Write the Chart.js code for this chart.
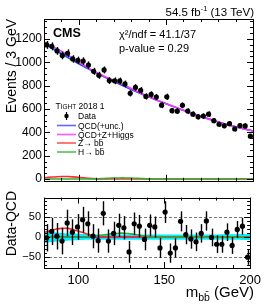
<!DOCTYPE html>
<html><head><meta charset="utf-8">
<script src="https://cdn.jsdelivr.net/npm/chart.js@4.4.1/dist/chart.umd.min.js"></script>
<style>
html,body{margin:0;padding:0;background:#fff;overflow:hidden;}
#c1{position:absolute;left:0;top:0;}
#c2{position:absolute;left:0;top:188px;}
</style></head><body>
<canvas id="c1" width="266" height="190"></canvas>
<canvas id="c2" width="266" height="120"></canvas>
<script>
// ---- data ----
const binCenters = [81.5,84.5,87.5,90.5,93.5,96.5,99.5,102.5,105.5,108.5,111.5,114.5,117.5,120.5,123.5,126.5,129.5,132.5,135.5,138.5,141.5,144.5,147.5,150.5,153.5,156.5,159.5,162.5,165.5,168.5,171.5,174.5,177.5,180.5,183.5,186.5,189.5,192.5,195.5,198.5];
const dataEvents = [1148,1136,1097,1058,1077,1028,1016,1010,976,922,888,934,843,841,840,814,734,784,759,707,724,702,632,704,585,581,631,582,555,533,539,555,500,469,456,474,429,458,455,367];
const dataErr = [34,34,33,33,33,32,32,32,31,30,30,30,29,29,29,29,27,28,28,27,27,26,25,27,24,24,25,24,24,23,23,24,22,22,21,22,21,21,21,19];
const residuals = [-2,14,2,-10,35,12,25,43,33,2,-9,59,-10,9,29,23,-37,33,27,-6,29,25,-27,62,-40,-27,39,6,-5,-12,9,40,-1,-18,-18,12,-21,19,27,-50];
const curveX = [80,81.5,84.5,87.5,90.5,93.5,96.5,99.5,102.5,105.5,108.5,111.5,114.5,117.5,120.5,123.5,126.5,129.5,132.5,135.5,138.5,141.5,144.5,147.5,150.5,153.5,156.5,159.5,162.5,165.5,168.5,171.5,174.5,177.5,180.5,183.5,186.5,189.5,192.5,195.5,198.5,200];
const qcdFit = [1165,1150,1122,1095,1068,1042,1016,991,967,943,920,897,875,853,832,811,791,771,751,732,713,695,677,659,642,625,608,592,576,560,545,530,515,501,487,474,462,450,439,428,417,412];
const qcdUnc = [15,14,12.5,11,10,9,8.5,8,7.5,7,7,6.5,6.5,6.5,6.5,6.5,6.5,6.5,6.5,6.5,6.5,6.5,6.5,6.5,6.5,6.5,6.5,6.5,6.5,6.5,6.5,6.5,6.5,6.5,6.5,7,7,7,7,7.5,7.5,8];
const zSignal = [11,13,17,20,21.5,21.5,19,15,11,7,3.5,1.5,0.5,0.2,0,0,0,0,0,0,0,0,0,0,0,0,0,0,0,0,0,0,0,0,0,0,0,0,0,0,0,0];
const hSignal = [0,0,0,0,0,0,0,0,0,0.5,1.5,3,5,7,8.5,9.5,9.5,8.5,6.5,4.5,2.5,1.2,0.5,0.2,0,0,0,0,0,0,0,0,0,0,0,0,0,0,0,0,0,0];
const yTicksTop = [0,200,400,600,800,1000,1200];
const yTicksBottom = [-50,0,50];
const xTicks = [100,150,200];

const FONT = '"Liberation Sans", Arial, Helvetica, sans-serif';
const C_BLUE = '#4646ff', C_MAG = '#ff33ff', C_CYAN = '#00f0ff', C_RED = '#ff2a2a', C_GREEN = '#2fb02f';

const pts = (xs, ys) => xs.map((x, i) => ({x: x, y: ys[i]}));

function errBarPlugin(errs) {
  return {
    id: 'errBars',
    beforeDatasetDraw(chart, args) {
      if (args.index !== 0) return;
      const ctx = chart.ctx, xs = chart.scales.x, ys = chart.scales.y;
      const d = chart.data.datasets[0].data;
      ctx.save();
      ctx.strokeStyle = '#000'; ctx.lineWidth = 1.4;
      d.forEach((p, i) => {
        const px = Math.round(xs.getPixelForValue(p.x)) + 0.5;
        ctx.beginPath();
        ctx.moveTo(px, ys.getPixelForValue(p.y - errs[i]));
        ctx.lineTo(px, ys.getPixelForValue(p.y + errs[i]));
        ctx.stroke();
      });
      ctx.restore();
    }
  };
}

function framePlugin(cfg) {
  return {
    id: 'frameTicks',
    beforeDatasetsDraw(chart) {
      if (!cfg.dashed) return;
      const ctx = chart.ctx, a = chart.chartArea, ys = chart.scales.y;
      ctx.save();
      ctx.strokeStyle = '#777'; ctx.lineWidth = 1; ctx.setLineDash([3, 2]);
      cfg.dashed.forEach(v => {
        const py = Math.round(ys.getPixelForValue(v)) + 0.5;
        ctx.beginPath(); ctx.moveTo(a.left, py); ctx.lineTo(a.right, py); ctx.stroke();
      });
      ctx.restore();
    },
    afterDraw(chart) {
      const ctx = chart.ctx, a = chart.chartArea, xs = chart.scales.x, ys = chart.scales.y;
      ctx.save();
      ctx.strokeStyle = '#000'; ctx.lineWidth = 1;
      ctx.strokeRect(Math.round(a.left) + 0.5, Math.round(a.top) + 0.5, Math.round(a.right - a.left), Math.round(a.bottom - a.top));
      ctx.beginPath();
      for (let v = xs.min; v <= xs.max + 1e-6; v += cfg.xMinor) {
        const px = Math.round(xs.getPixelForValue(v)) + 0.5;
        const L = (xTicks.indexOf(v) >= 0) ? cfg.xMajLen : cfg.xMinLen;
        ctx.moveTo(px, a.bottom); ctx.lineTo(px, a.bottom - L);
        ctx.moveTo(px, a.top); ctx.lineTo(px, a.top + L);
      }
      const y0 = Math.ceil(ys.min / cfg.yMinor) * cfg.yMinor;
      for (let v = y0; v <= ys.max + 1e-6; v += cfg.yMinor) {
        const py = Math.round(ys.getPixelForValue(v)) + 0.5;
        const L = (cfg.yMajor.indexOf(v) >= 0) ? cfg.yMajLen : cfg.yMinLen;
        ctx.moveTo(a.left, py); ctx.lineTo(a.left + L, py);
        ctx.moveTo(a.right, py); ctx.lineTo(a.right - L, py);
      }
      ctx.stroke();
      ctx.restore();
      if (cfg.text) cfg.text(ctx, chart);
    }
  };
}

function lineDs(data, color, width, extra) {
  return Object.assign({data: data, borderColor: color, borderWidth: width, pointRadius: 0, fill: false, tension: 0.3}, extra || {});
}

// ---------- top panel ----------
const sumFit = curveX.map((x, i) => ({x: x, y: qcdFit[i] + zSignal[i] + hSignal[i]}));
const bandUp = curveX.map((x, i) => ({x: x, y: qcdFit[i] + qcdUnc[i]}));
const bandLo = curveX.map((x, i) => ({x: x, y: qcdFit[i] - qcdUnc[i]}));

function topText(ctx, chart) {
  ctx.save();
  ctx.fillStyle = '#000';
  ctx.textBaseline = 'alphabetic';
  const p1 = '54.5 fb', p3 = ' (13 TeV)';
  ctx.font = '7.5px ' + FONT; const w2 = ctx.measureText('-1').width;
  ctx.font = '11.5px ' + FONT;
  const w1 = ctx.measureText(p1).width, w3 = ctx.measureText(p3).width;
  let x = 254 - (w1 + w2 + w3);
  ctx.fillText(p1, x, 16); x += w1;
  ctx.font = '7.5px ' + FONT; ctx.fillText('-1', x, 11); x += w2;
  ctx.font = '11.5px ' + FONT; ctx.fillText(p3, x, 16);
  ctx.font = 'bold 12.5px ' + FONT;
  ctx.fillText('CMS', 53, 37);
  ctx.font = '11px ' + FONT;
  ctx.fillText('\u03C7\u00B2/ndf = 41.1/37', 119, 38);
  ctx.fillText('p-value = 0.29', 119, 52);
  ctx.font = '8.5px ' + FONT;
  let lx = 55.5;
  ctx.fillText('T', lx, 109); lx += ctx.measureText('T').width;
  ctx.font = '6.5px ' + FONT; ctx.fillText('IGHT', lx, 109); lx += ctx.measureText('IGHT').width;
  ctx.font = '8.5px ' + FONT; ctx.fillText(' 2018 1', lx, 109);
  const rows = [
    {t: 'Data', y: 116, type: 'pt'},
    {t: 'QCD(+unc.)', y: 125.5, c: '#6565ff'},
    {t: 'QCD+Z+Higgs', y: 134.5, c: '#ff55ff'},
    {t: 'Z\u2192 bb\u0304', y: 143, c: '#ff5555'},
    {t: 'H\u2192 bb\u0304', y: 152, c: '#55c055'}
  ];
  rows.forEach(r => {
    if (r.type === 'pt') {
      ctx.beginPath(); ctx.arc(66.5, r.y, 2.2, 0, 2 * Math.PI); ctx.fill();
      ctx.lineWidth = 1.2; ctx.beginPath(); ctx.moveTo(66.5, r.y - 4); ctx.lineTo(66.5, r.y + 4); ctx.strokeStyle = '#000'; ctx.stroke();
    } else {
      ctx.strokeStyle = r.c; ctx.lineWidth = 1.6;
      ctx.beginPath(); ctx.moveTo(57, r.y); ctx.lineTo(76, r.y); ctx.stroke();
    }
    ctx.fillStyle = '#000';
    ctx.font = '8.5px ' + FONT;
    ctx.fillText(r.t, 78, r.y + 3);
  });
  ctx.translate(16, 19);
  ctx.rotate(-Math.PI / 2);
  ctx.textAlign = 'right';
  ctx.font = '14px ' + FONT;
  ctx.fillText('Events / 3 GeV', 0, 0);
  ctx.restore();
}

new Chart(document.getElementById('c1'), {
  type: 'line',
  data: {
    datasets: [
      {data: pts(binCenters, dataEvents), showLine: false, pointRadius: 2.6, pointHoverRadius: 2.6, pointBackgroundColor: '#000', pointBorderWidth: 0, borderColor: '#000'},
      lineDs(pts(curveX, hSignal), C_GREEN, 1.6),
      lineDs(pts(curveX, zSignal), C_RED, 1.6),
      lineDs(sumFit, C_MAG, 1.6),
      lineDs(pts(curveX, qcdFit), C_BLUE, 1.6),
      lineDs(bandUp, 'rgba(0,0,0,0)', 0, {fill: '+1', backgroundColor: C_CYAN}),
      lineDs(bandLo, 'rgba(0,0,0,0)', 0)
    ]
  },
  options: {
    responsive: false, animation: false, devicePixelRatio: 1,
    layout: {padding: {top: 19, right: 13, bottom: 7, left: 0}},
    plugins: {legend: {display: false}, tooltip: {enabled: false}},
    events: [],
    scales: {
      x: {type: 'linear', min: 80, max: 200, display: false},
      y: {
        type: 'linear', min: -15, max: 1370,
        afterFit(s) { s.width = 44; },
        afterBuildTicks(s) { s.ticks = yTicksTop.map(v => ({value: v})); },
        grid: {display: false, drawTicks: false}, border: {display: false},
        ticks: {color: '#000', padding: 2, font: {family: FONT, size: 12}, callback: v => String(v)}
      }
    }
  },
  plugins: [errBarPlugin(dataErr), framePlugin({xMinor: 10, xMajLen: 6, xMinLen: 3, yMinor: 50, yMajor: yTicksTop, yMajLen: 6, yMinLen: 3, text: topText})]
});

// ---------- bottom panel ----------
function bottomText(ctx, chart) {
  ctx.save();
  ctx.fillStyle = '#000';
  ctx.textBaseline = 'alphabetic';
  const big = '15px ' + FONT, small = '10.5px ' + FONT;
  ctx.font = big; const wm = ctx.measureText('m').width, wg = ctx.measureText(' (GeV)').width;
  ctx.font = small; const ws = ctx.measureText('bb\u0304').width;
  let x = 254 - (wm + ws + wg);
  const base = 297 - 188;
  ctx.font = big; ctx.fillText('m', x, base); x += wm;
  ctx.font = small; ctx.fillText('bb\u0304', x, base + 4); x += ws;
  ctx.font = big; ctx.fillText(' (GeV)', x, base);
  ctx.translate(16, 191 - 188);
  ctx.rotate(-Math.PI / 2);
  ctx.textAlign = 'right';
  ctx.font = '14px ' + FONT;
  ctx.fillText('Data-QCD', 0, 0);
  ctx.restore();
}

const zeroLine = curveX.map((x, i) => ({x: x, y: qcdFit[i] - qcdFit[i]}));
const rBandUp = pts(curveX, qcdUnc);
const rBandLo = curveX.map((x, i) => ({x: x, y: -qcdUnc[i]}));

new Chart(document.getElementById('c2'), {
  type: 'line',
  data: {
    datasets: [
      {data: pts(binCenters, residuals), showLine: false, pointRadius: 2.6, pointHoverRadius: 2.6, pointBackgroundColor: '#000', pointBorderWidth: 0, borderColor: '#000'},
      lineDs(pts(curveX, hSignal), C_GREEN, 1.6),
      lineDs(pts(curveX, zSignal), C_RED, 1.6),
      lineDs(zeroLine, C_BLUE, 2),
      lineDs(rBandUp, 'rgba(0,0,0,0)', 0, {fill: '+1', backgroundColor: C_CYAN}),
      lineDs(rBandLo, 'rgba(0,0,0,0)', 0)
    ]
  },
  options: {
    responsive: false, animation: false, devicePixelRatio: 1,
    layout: {padding: {top: 5, right: 13, bottom: 0, left: 0}},
    plugins: {legend: {display: false}, tooltip: {enabled: false}},
    events: [],
    scales: {
      x: {
        type: 'linear', min: 80, max: 200,
        afterFit(s) { s.height = 40; },
        afterBuildTicks(s) { s.ticks = xTicks.map(v => ({value: v})); },
        grid: {display: false, drawTicks: false}, border: {display: false},
        ticks: {color: '#000', padding: 5, maxRotation: 0, font: {family: FONT, size: 13}, callback: v => String(v)}
      },
      y: {
        type: 'linear', min: -77, max: 98,
        afterFit(s) { s.width = 44; },
        afterBuildTicks(s) { s.ticks = yTicksBottom.map(v => ({value: v})); },
        grid: {display: false, drawTicks: false}, border: {display: false},
        ticks: {color: '#000', padding: 3, font: {family: FONT, size: 11}, callback: v => (v < 0 ? '\u2212' + Math.abs(v) : String(v))}
      }
    }
  },
  plugins: [errBarPlugin(dataErr), framePlugin({xMinor: 10, xMajLen: 6, xMinLen: 3, yMinor: 10, yMajor: yTicksBottom, yMajLen: 6, yMinLen: 3, dashed: [-50, 0, 50], text: bottomText})]
});
</script>
</body></html>
